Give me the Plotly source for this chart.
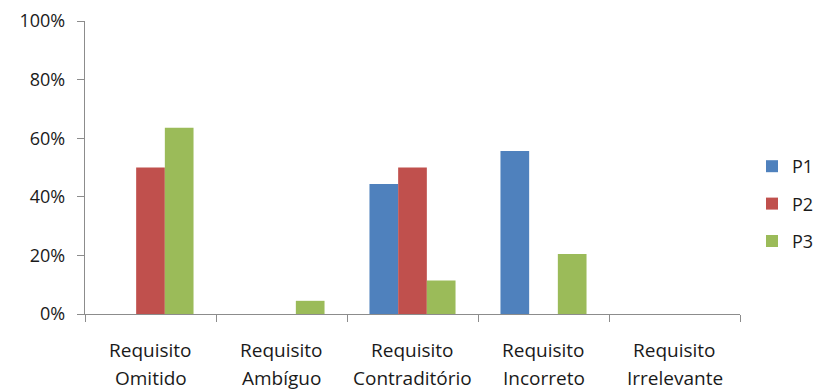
import plotly.graph_objects as go

categories = ["Requisito Omitido", "Requisito Ambíguo", "Requisito Contraditório",
              "Requisito Incorreto", "Requisito Irrelevante"]
series_names = ["P1", "P2", "P3"]
p1 = [0.0, 0.0, 44.4, 55.6, 0.0]
p2 = [50.0, 0.0, 50.0, 0.0, 0.0]
p3 = [63.6, 4.5, 11.4, 20.5, 0.0]
colors = ["#4F81BD", "#C0504D", "#9BBB59"]
y_ticks = [0, 20, 40, 60, 80, 100]

FONT = "Open Sans"
FS = 18
TEXT = "#1a1a1a"
AXIS = "#8c8c8c"
W, H = 813, 390
ML, MR, MT, MB = 85, 0, 21, 76
PLOT_W = W - ML - MR
PLOT_H = H - MT - MB

fig = go.Figure()
for name, vals, col in zip(series_names, [p1, p2, p3], colors):
    fig.add_trace(go.Bar(
        name=name, x=categories, y=vals,
        marker=dict(color=col, line=dict(width=0)),
        legendgroup=name,
    ))

# two-line category labels, drawn under the axis
for cat in categories:
    first, second = cat.split(" ", 1)
    for text, off in ((first, 36), (second, 64)):
        fig.add_annotation(
            x=cat, xref="x", y=-off / PLOT_H, yref="paper",
            text=text, showarrow=False, xanchor="center", yanchor="middle",
            font=dict(family=FONT, size=19, color=TEXT),
        )

fig.update_layout(
    width=W, height=H,
    margin=dict(l=ML, r=MR, t=MT, b=MB, autoexpand=False),
    paper_bgcolor="white", plot_bgcolor="white",
    barmode="group", bargap=0.343, bargroupgap=0,
    font=dict(family=FONT, size=FS, color=TEXT),
    legend=dict(x=(752 - ML) / PLOT_W, y=(MT + PLOT_H - 148) / PLOT_H,
                xanchor="left", yanchor="top",
                font=dict(size=FS, color=TEXT), tracegroupgap=11,
                itemwidth=30, bgcolor="rgba(0,0,0,0)"),
    showlegend=True,
)
fig.update_xaxes(
    domain=[0, (740 - ML) / PLOT_W],
    showline=True, linecolor=AXIS, linewidth=1.3,
    ticks="outside", tickson="boundaries", ticklen=7, tickcolor=AXIS, tickwidth=1.3,
    showgrid=False, showticklabels=False,
)
fig.update_yaxes(
    range=[0, 100], tickvals=y_ticks, ticktext=[f"{v}%" for v in y_ticks],
    showline=True, linecolor=AXIS, linewidth=1.3,
    ticks="outside", ticklen=7, tickcolor=AXIS, tickwidth=1.3,
    ticklabelstandoff=8,
    showgrid=False, zeroline=False, tickfont=dict(size=FS, color=TEXT),
)

fig.write_html("out.html")
